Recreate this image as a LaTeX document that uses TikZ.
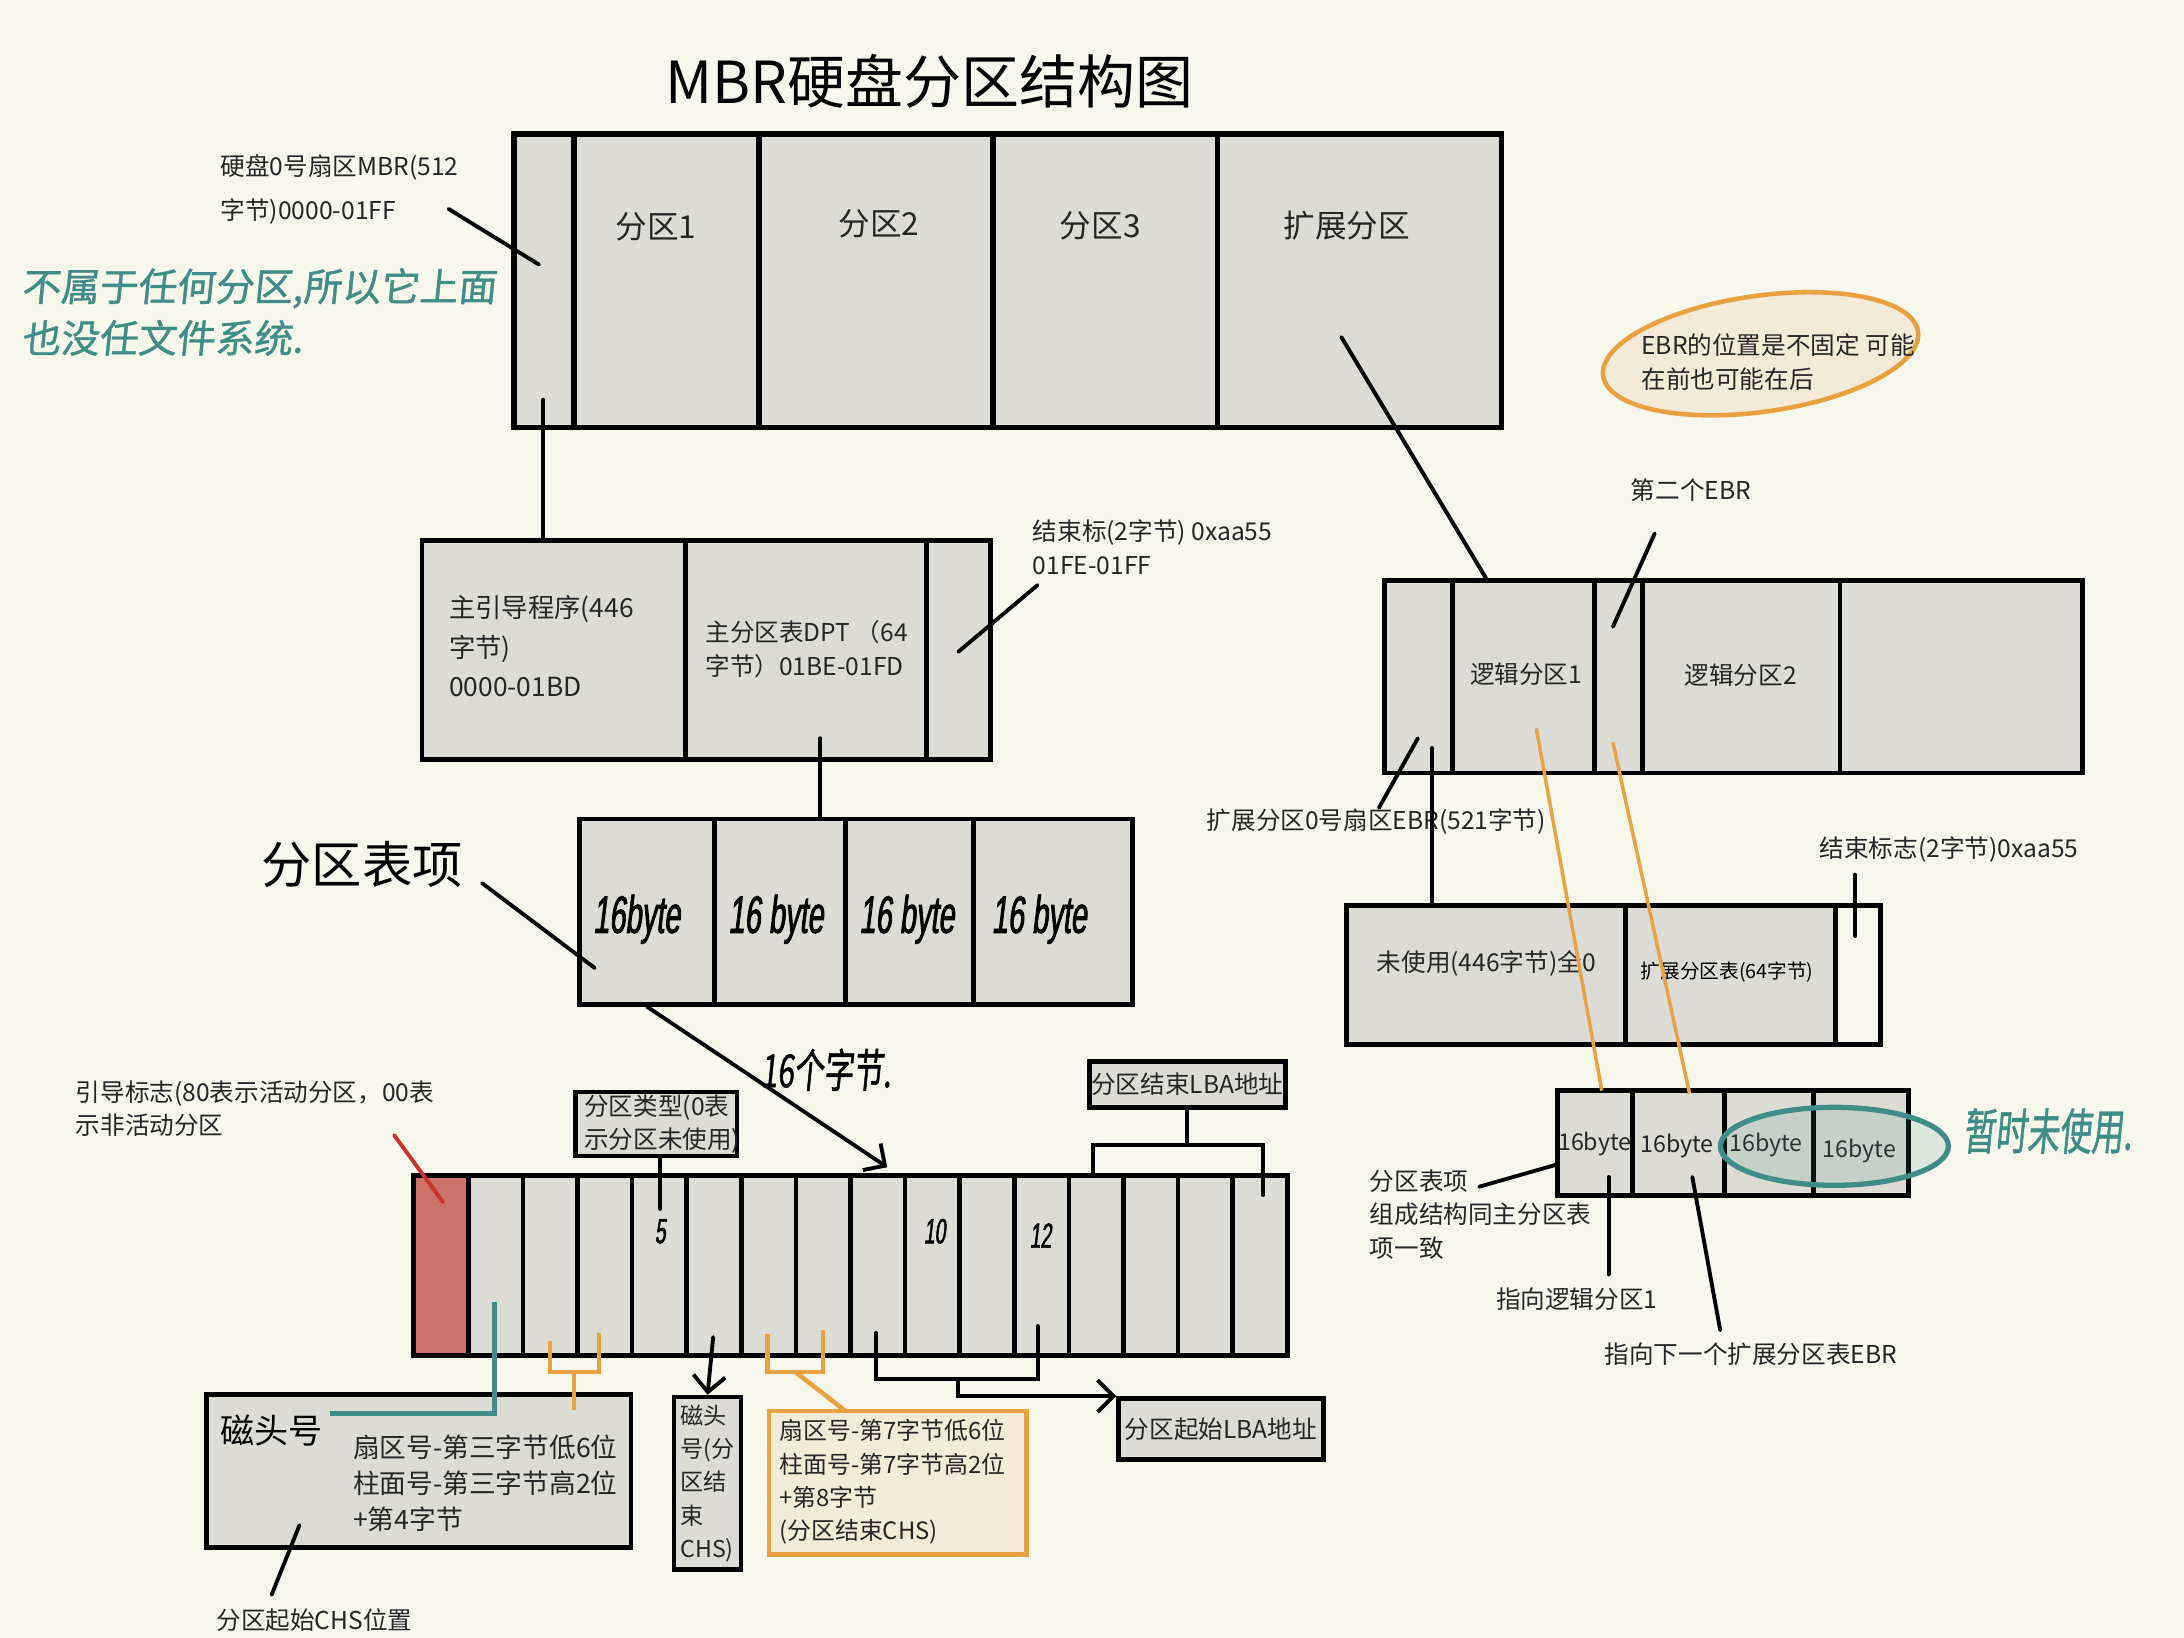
\documentclass[tikz,border=0pt]{standalone}
\usepackage{fontspec}
\usepackage{tikz}
\usepackage{xcolor}
\usetikzlibrary{arrows.meta,positioning,fit,shapes.geometric}

\setmainfont{Noto Sans CJK SC}
\newfontfamily\handfont[FakeSlant=0.12,FakeStretch=0.55,FakeBold=1.5]{Liberation Sans}
\newfontfamily\handcjk[FakeSlant=0.1,FakeBold=1]{Noto Sans CJK SC}
\newfontfamily\handcjknarrow[FakeSlant=0.1,FakeStretch=0.65,FakeBold=1]{Noto Sans CJK SC}

\definecolor{paper}{HTML}{F7F7EC}
\definecolor{boxgray}{HTML}{DCDCD4}
\definecolor{bootred}{HTML}{CC736B}
\definecolor{pinred}{HTML}{C8332C}
\definecolor{chsorange}{HTML}{E9A242}
\definecolor{chsfill}{HTML}{F4EAD8}
\definecolor{noteteal}{HTML}{3F8C88}

\newcommand{\fsz}[2]{\fontsize{#1}{#2}\selectfont}

\begin{document}
\begin{tikzpicture}[
  x=0.13929mm, y=-0.13929mm,
  cellbox/.style={draw, fill=boxgray, line width=1.4pt, inner sep=0pt},
  tagbox/.style={draw, fill=boxgray, line width=1.3pt, inner sep=0pt},
  bytecell/.style={draw, fill=boxgray, line width=1.3pt, inner sep=0pt, outer sep=0pt, minimum width=5.46mm, minimum height=17.97mm},
  txt/.style={font=\fsz{7pt}{9.5pt}, align=left, inner sep=0pt, anchor=west, text=black!85},
  partname/.style={font=\fsz{9pt}{11pt}, inner sep=0pt, text=black!85},
  handword/.style={font=\handfont\fsz{15pt}{15pt}, inner sep=0pt},
  handnum/.style={font=\handfont\fsz{10pt}{10pt}, inner sep=0pt},
  pointer/.style={line width=1.1pt, line cap=round},
  arrow/.style={-{Straight Barb[length=1.6mm,width=3.2mm]}, line width=1.1pt, line cap=round},
  chsline/.style={draw=chsorange, line width=1.3pt},
  tealline/.style={draw=noteteal, line width=1.3pt}
]
\fill[paper] (0,0) rectangle (1568,1176);
\useasboundingbox (0,0) rectangle (1568,1176);

\node[font=\fsz{16.5pt}{18pt}, inner sep=0pt] (title) at (667,58) {MBR硬盘分区结构图};

% whole disk
\node[cellbox, line width=1.6pt, fit={(369,96) (412,307)}] (mbr) {};
\node[cellbox, line width=1.6pt, fit={(412,96) (545,307)}] (p1) {};
\node[cellbox, line width=1.6pt, fit={(545,96) (713,307)}] (p2) {};
\node[cellbox, line width=1.6pt, fit={(713,96) (874,307)}] (p3) {};
\node[cellbox, line width=1.6pt, fit={(874,96) (1078,307)}] (ext) {};
\node[partname] (p1name) at (471,163) {分区1};
\node[partname] (p2name) at (631,161) {分区2};
\node[partname] (p3name) at (790,162) {分区3};
\node[partname] (extname) at (967,162) {扩展分区};

\node[txt, font=\fsz{7pt}{12.7pt}] (mbrnote) at (158,136) {硬盘0号扇区MBR(512\\字节)0000-01FF};
\node[txt, font=\handcjk\fsz{11pt}{14.7pt}, text=noteteal] (nofs) at (15,224) {不属于任何分区,所以它上面\\也没任文件系统.};
\coordinate (mbrnoteEnd) at (322,150);
\coordinate (mbrPt) at (387,190);

% MBR sector
\node[cellbox, fit={(303,388) (492,545)}] (boot) {};
\node[cellbox, fit={(492,388) (665,545)}] (dpt) {};
\node[cellbox, fit={(665,388) (711,545)}] (sig) {};
\node[txt, font=\fsz{7.5pt}{11.2pt}] (bootname) at (322,464) {主引导程序(446\\字节)\\0000-01BD};
\node[txt] (dptname) at (506,466) {主分区表DPT （64\\字节）01BE-01FD};
\node[txt] (signote) at (741,393) {结束标(2字节) 0xaa55\\01FE-01FF};
\coordinate (mbrTail) at (390,287);
\coordinate (sigA) at (745,420);
\coordinate (sigB) at (688,468);

% partition table
\node[cellbox, fit={(416,588) (513,721)}] (e1) {};
\node[cellbox, fit={(513,588) (607,721)}] (e2) {};
\node[cellbox, fit={(607,588) (699,721)}] (e3) {};
\node[cellbox, fit={(699,588) (813,721)}] (e4) {};
\node[handword] (e1name) at (457,660) {16byte};
\node[handword] (e2name) at (557,660) {16 byte};
\node[handword] (e3name) at (651,660) {16 byte};
\node[handword] (e4name) at (746,660) {16 byte};
\node[font=\fsz{14.3pt}{16pt}, inner sep=0pt] (entryname) at (260,621) {分区表项};
\node[font=\handcjknarrow\fsz{13pt}{13pt}, inner sep=0pt] (sixteen) at (593,768) {16个字节.};
\coordinate (dptTail) at (589,530);
\coordinate (entA) at (346,634);
\coordinate (entB) at (427,695);
\coordinate (b8Pt) at (637,838);

% one entry, 16 bytes
\node[bytecell, fill=bootred, anchor=north west] (b0) at (297,844) {};
\node[bytecell, right=0pt of b0] (b1) {};
\node[bytecell, right=0pt of b1] (b2) {};
\node[bytecell, right=0pt of b2] (b3) {};
\node[bytecell, right=0pt of b3] (b4) {};
\node[bytecell, right=0pt of b4] (b5) {};
\node[bytecell, right=0pt of b5] (b6) {};
\node[bytecell, right=0pt of b6] (b7) {};
\node[bytecell, right=0pt of b7] (b8) {};
\node[bytecell, right=0pt of b8] (b9) {};
\node[bytecell, right=0pt of b9] (b10) {};
\node[bytecell, right=0pt of b10] (b11) {};
\node[bytecell, right=0pt of b11] (b12) {};
\node[bytecell, right=0pt of b12] (b13) {};
\node[bytecell, right=0pt of b13] (b14) {};
\node[bytecell, right=0pt of b14] (b15) {};
\node[handnum] (n5) at (474,884) {5};
\node[handnum] (n10) at (671,884) {10};
\node[handnum] (n12) at (747,887) {12};

\node[txt] (flagnote) at (54,796) {引导标志(80表示活动分区，00表\\示非活动分区};
\node[tagbox, fit={(413,784) (529,830)}] (typebox) {};
\node[txt] (typename) at (419,807) {分区类型(0表\\示分区未使用)};
\node[tagbox, fit={(782,762) (923,795)}] (lbaend) {};
\node[txt, anchor=center] (lbaendname) at (lbaend) {分区结束LBA地址};
\node[tagbox, fit={(803,1004) (950,1048)}] (lbastart) {};
\node[txt, anchor=center] (lbastartname) at (lbastart) {分区起始LBA地址};
\node[tagbox, fit={(484,1003) (532,1127)}] (endchs) {};
\node[txt, font=\fsz{6.6pt}{9.5pt}] (endchsname) at (488,1065) {磁头\\号(分\\区结\\束\\CHS)};
\node[tagbox, draw=chsorange, fill=chsfill, fit={(552,1013) (737,1116)}] (chsbox) {};
\node[txt, font=\fsz{6.8pt}{9.5pt}] (chsname2) at (559,1064) {扇区号-第7字节低6位\\柱面号-第7字节高2位\\+第8字节\\(分区结束CHS)};
\node[cellbox, fit={(148,1001) (453,1111)}] (headbox) {};
\node[font=\fsz{9.7pt}{11pt}, inner sep=0pt] (headname) at (195,1027) {磁头号};
\node[txt, font=\fsz{7.6pt}{10.3pt}] (headdetail) at (253,1065) {扇区号-第三字节低6位\\柱面号-第三字节高2位\\+第4字节};
\node[txt] (chsname) at (155,1163) {分区起始CHS位置};
\coordinate (flagA) at (283,815);
\coordinate (flagB) at (318,863);
\coordinate (typePt) at (474,868);
\coordinate (lbaL) at (785,822);
\coordinate (lbaR) at (907,822);
\coordinate (lbaRend) at (907,858);
\coordinate (headPt) at (355,935);
\coordinate (headEnd) at (237,1015);
\coordinate (secL) at (395,963);
\coordinate (secR) at (430,957);
\coordinate (secJ) at (412,985);
\coordinate (secEnd) at (412,1012);
\coordinate (endPt) at (512,960);
\coordinate (cylL) at (551,958);
\coordinate (cylR) at (591,955);
\coordinate (cylJ) at (571,985);
\coordinate (cylEnd) at (607,1013);
\coordinate (lbaS1) at (629,957);
\coordinate (lbaS2) at (745,952);
\coordinate (lbaJ) at (688,990);
\coordinate (chsA) at (215,1095);
\coordinate (chsB) at (195,1145);

% extended partition
\node[ellipse, draw=chsorange, fill=chsfill, line width=1.3pt, minimum width=31.8mm, minimum height=11.6mm, rotate=8, inner sep=0pt] (ebrring) at (1264,254) {};
\node[txt] (ebrnote) at (1178,260) {EBR的位置是不固定 可能\\在前也可能在后};
\node[txt, anchor=center] (ebr2name) at (1214,352) {第二个EBR};
\node[cellbox, fit={(994,417) (1043,555)}] (ebr0) {};
\node[cellbox, fit={(1043,417) (1145,555)}] (lg1) {};
\node[cellbox, fit={(1145,417) (1179,555)}] (ebr1) {};
\node[cellbox, fit={(1179,417) (1321,555)}] (lg2) {};
\node[cellbox, fit={(1321,417) (1495,555)}] (free) {};
\node[txt] (lg1name) at (1055,484) {逻辑分区1};
\node[txt] (lg2name) at (1209,485) {逻辑分区2};
\node[txt] (ebr0name) at (866,590) {扩展分区0号扇区EBR(521字节)};
\coordinate (extPt) at (963,242);
\coordinate (ebrIn) at (1068,417);
\coordinate (ebr2A) at (1188,383);
\coordinate (ebr2B) at (1158,450);
\coordinate (ebr0A) at (1018,530);
\coordinate (ebr0B) at (990,580);
\coordinate (ebr0Tail) at (1028,537);

\node[cellbox, fit={(967,650) (1167,750)}] (ud0) {};
\node[cellbox, fit={(1167,650) (1318,750)}] (ud1) {};
\node[cellbox, fill=paper, fit={(1318,650) (1350,750)}] (ud2) {};
\node[txt] (unused) at (988,692) {未使用(446字节)全0};
\node[font=\fsz{5.6pt}{7pt}, inner sep=0pt] (exttable) at (1240,698) {扩展分区表(64字节)};
\node[txt] (endmark) at (1306,610) {结束标志(2字节)0xaa55};
\coordinate (endA) at (1332,628);
\coordinate (endB) at (1332,672);

\node[cellbox, fit={(1118,783) (1172,858)}] (s1) {};
\node[cellbox, fit={(1172,783) (1238,858)}] (s2) {};
\node[cellbox, fit={(1238,783) (1302,858)}] (s3) {};
\node[cellbox, fit={(1302,783) (1370,858)}] (s4) {};
\node[txt, anchor=center, font=\fsz{6.6pt}{8pt}] (s1name) at (1145,821) {16byte};
\node[txt, anchor=center, font=\fsz{6.6pt}{8pt}] (s2name) at (1204,823) {16byte};
\node[txt, anchor=center, font=\fsz{6.6pt}{8pt}] (s3name) at (1268,822) {16byte};
\node[txt, anchor=center, font=\fsz{6.6pt}{8pt}] (s4name) at (1335,826) {16byte};
\node[ellipse, draw=noteteal, fill=noteteal, fill opacity=0.15, line width=1.5pt, minimum width=22.8mm, minimum height=7.8mm] (unusedring) at (1317,823) {};
\node[font=\handcjknarrow\fsz{14pt}{14pt}, text=noteteal, inner sep=0pt] (unusednote) at (1470,812) {暂时未使用.};
\node[txt] (sameas) at (983,872) {分区表项\\组成结构同主分区表\\项一致};
\node[txt, anchor=center] (toLg1name) at (1132,933) {指向逻辑分区1};
\node[txt, anchor=center] (toNextname) at (1257,972) {指向下一个扩展分区表EBR};
\coordinate (lg1Pt) at (1103,523);
\coordinate (lg2Pt) at (1158,533);
\coordinate (s1Top) at (1150,783);
\coordinate (s2Top) at (1213,785);
\coordinate (sameA) at (1062,852);
\coordinate (sameB) at (1118,836);
\coordinate (toLg1) at (1155,845);
\coordinate (toLg1End) at (1155,915);
\coordinate (toNext) at (1215,845);
\coordinate (toNextEnd) at (1235,955);

% connectors
\draw[pointer] (mbrnoteEnd) -- (mbrPt);
\draw[pointer] (mbrTail) -- (mbrTail |- boot.north);
\draw[pointer] (sigA) -- (sigB);
\draw[pointer] (dptTail) -- (dptTail |- e2.north);
\draw[pointer] (entA) -- (entB);
\draw[arrow] (e1.south) -- (b8Pt);
\draw[pointer, draw=pinred] (flagA) -- (flagB);
\draw[pointer] (typePt |- typebox.south) -- (typePt);
\draw[pointer] (lbaend) -- (lbaend.south |- lbaL);
\draw[pointer] (lbaL |- b12.north) -- (lbaL) -- (lbaR) -- (lbaRend);
\draw[tealline] (headPt) |- (headEnd);
\draw[chsline] (secL) |- (secJ) -| (secR);
\draw[chsline] (secJ) -- (secEnd);
\draw[arrow] (endPt) -- (endchs.north);
\draw[chsline] (cylL) |- (cylJ) -| (cylR);
\draw[chsline] (cylJ) -- (cylEnd);
\draw[pointer] (lbaS1) |- (lbaJ) -| (lbaS2);
\draw[arrow] (lbaJ) |- (lbastart.north west);
\draw[pointer] (chsA) -- (chsB);
\draw[pointer] (extPt) -- (ebrIn);
\draw[pointer] (ebr2A) -- (ebr2B);
\draw[pointer] (ebr0A) -- (ebr0B);
\draw[pointer] (ebr0Tail) -- (ebr0Tail |- ud0.north);
\draw[pointer] (endA) -- (endB);
\draw[chsline, line width=1pt] (lg1Pt) -- (s1Top);
\draw[chsline, line width=1pt] (lg2Pt) -- (s2Top);
\draw[pointer] (sameA) -- (sameB);
\draw[pointer] (toLg1) -- (toLg1End);
\draw[pointer] (toNext) -- (toNextEnd);
\end{tikzpicture}
\end{document}
